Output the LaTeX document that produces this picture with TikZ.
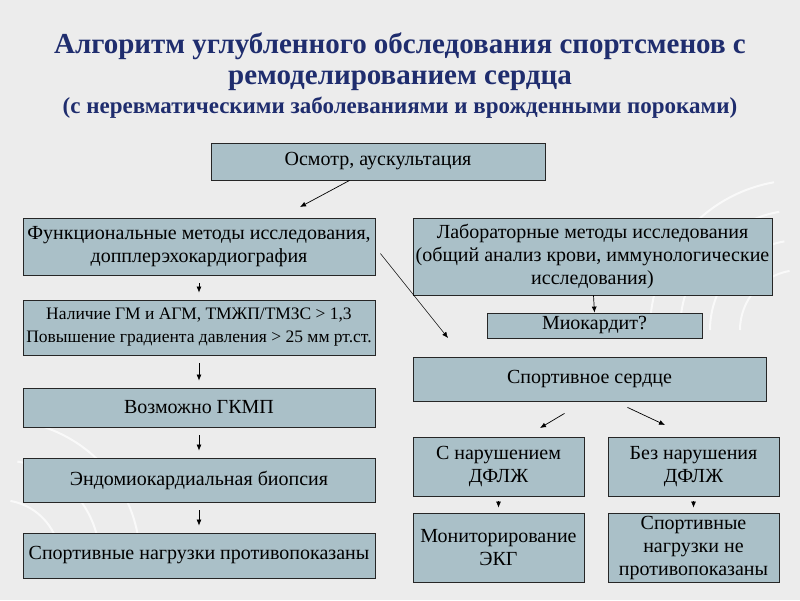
\documentclass[tikz,border=0pt]{standalone}
\usepackage{fontspec}
\setmainfont{Liberation Serif}
\usetikzlibrary{arrows.meta}
\definecolor{boxfill}{RGB}{170,192,200}
\definecolor{titlec}{RGB}{31,45,110}
\definecolor{bg}{RGB}{236,236,236}
\tikzset{
 bx/.style={draw=black!85,fill=boxfill,line width=0.8pt,align=center,font=\fontsize{20}{23}\selectfont,inner sep=0pt},
 arr/.style={-{Latex[length=6pt,width=5pt]},line width=0.7pt},
}
\newcommand{\bxat}[6]{\node[bx,minimum width=#3-#2,minimum height=#5-#4] (#1) at ({(#2+#3)/2},{(#4+#5)/2}) {#6};}
\begin{document}
\begin{tikzpicture}[x=1pt,y=-1pt]
\fill[bg] (0,0) rectangle (800,600);
\useasboundingbox (0,0) rectangle (800,600);
\foreach \r in {60,90,120,150}{\draw[white,line width=2pt,opacity=0.7] (800,330) ++(180:\r) arc (180:260:\r);}
\foreach \r in {60,100,140}{\draw[white,line width=2pt,opacity=0.7] (0,560) ++(0:\r) arc (0:-80:\r);}
\node[font=\fontsize{29}{31}\selectfont\bfseries,text=titlec,align=center] (t1) at (400,62) {Алгоритм углубленного обследования спортсменов с\\ремоделированием сердца};
\node[font=\fontsize{23}{26}\selectfont\bfseries,text=titlec] (t2) at (400,108) {(с неревматическими заболеваниями и врожденными пороками)};
\bxat{osm}{211}{545}{143}{180}{Осмотр, аускультация}
\bxat{fun}{23}{375}{218}{275}{Функциональные методы исследования,\\допплерэхокардиография}
\node[bx,minimum width=352,minimum height=55,font=\fontsize{17.5}{23}\selectfont] (nal) at (199,327.5) {Наличие ГМ и АГМ, ТМЖП/ТМЗС > 1,3\\Повышение градиента давления > 25 мм рт.ст.};
\bxat{gkmp}{23}{375}{388}{427}{Возможно ГКМП}
\bxat{bio}{23}{375}{458}{502}{Эндомиокардиальная биопсия}
\bxat{sp1}{23}{375}{533}{578}{Спортивные нагрузки противопоказаны}
\bxat{lab}{413}{772}{218}{295}{Лабораторные методы исследования\\(общий анализ крови, иммунологические\\исследования)}
\bxat{mio}{487}{702}{313}{338}{Миокардит?}
\bxat{ss}{413}{766}{357}{401}{Спортивное сердце}
\bxat{sn}{413}{584}{437}{496}{С нарушением\\ДФЛЖ}
\bxat{bn}{608}{779}{437}{496}{Без нарушения\\ДФЛЖ}
\bxat{mon}{413}{584}{513}{582}{Мониторирование\\ЭКГ}
\bxat{sp2}{608}{779}{513}{582}{Спортивные\\нагрузки не\\противопоказаны}
\coordinate (a1) at (300,207);
\draw[arr] (osm.south west) ++(139,0) -- (a1);
\coordinate (a2) at (448,338);
\draw[arr,line width=0.5pt] (fun.east) ++(5,7) -- (a2);
\foreach \u/\d in {fun/nal,nal/gkmp,gkmp/bio,bio/sp1}{
 \draw[arr] ([yshift=-8]\u.south) -- ([yshift=7]\d.north);}
\draw[arr] ([xshift=-1]lab.south -| mio.north) -- (mio.north);
\coordinate (a3) at (540,428);
\coordinate (a4) at (665,425);
\draw[arr] ([shift={(-25,12)}]ss.south) -- (a3);
\draw[arr] ([shift={(38,6)}]ss.south) -- (a4);
\draw[arr] ([yshift=-5]sn.south) -- ([yshift=5]mon.north);
\draw[arr] ([yshift=-5]bn.south) -- ([yshift=5]sp2.north);
\end{tikzpicture}
\end{document}
